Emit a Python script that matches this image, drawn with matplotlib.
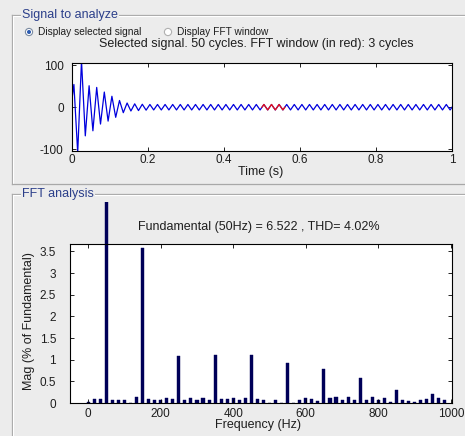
import numpy as np
import matplotlib
matplotlib.use('Agg')
import matplotlib.pyplot as plt
from matplotlib.patches import Rectangle, Circle

plt.rcParams['font.family'] = ['Liberation Sans', 'DejaVu Sans']
plt.rcParams['axes.unicode_minus'] = False

W, H = 465, 436
bg_col = '#ececec'
txt_col = '#1e1e1e'

# --- signal: extrema (half period = 0.01 s) ---
sig_start = 20
trans_peaks = [54, -108, 110, -68, 51, -56, 47, -40, 36, -33, 26, -24,
               16, -13, 10, -9, 8, -8, 7, -7]
steady_amp = 6.5
n_half = 100
fft_win = (0.50, 0.56)

# --- FFT bars, resolution 50/3 Hz (3-cycle window) ---
fft_step = 50 / 3
fft_mag = [0.02, 0.09, 0.09, 100, 0.06, 0.06, 0.06, 0.0, 0.15, 3.58,
           0.09, 0.06, 0.06, 0.12, 0.10, 1.08, 0.06, 0.12, 0.06, 0.12,
           0.08, 1.11, 0.09, 0.09, 0.12, 0.06, 0.12, 1.10, 0.09, 0.06,
           0.0, 0.06, 0.0, 0.93, 0.0, 0.06, 0.12, 0.09, 0.04, 0.78,
           0.12, 0.15, 0.06, 0.15, 0.08, 0.58, 0.06, 0.15, 0.08, 0.12,
           0.03, 0.31, 0.06, 0.05, 0.03, 0.06, 0.09, 0.21, 0.12, 0.06]

sig_title = 'Selected signal. 50 cycles. FFT window (in red): 3 cycles'
fft_title = 'Fundamental (50Hz) = 6.522 , THD= 4.02%'

# build waveform from extrema
peaks = list(trans_peaks)
for k in range(len(trans_peaks), n_half):
    peaks.append(steady_amp if k % 2 == 0 else -steady_amp)
t = np.concatenate([[0.0], 0.005 + 0.01 * np.arange(n_half), [1.0]])
y = np.concatenate([[sig_start], peaks, [0.0]])

fig = plt.figure(figsize=(W / 100, H / 100), dpi=100)
fig.patch.set_facecolor(bg_col)

# background layer in pixel coords
bg = fig.add_axes([0, 0, 1, 1], zorder=-1)
bg.set_xlim(0, W)
bg.set_ylim(H, 0)
bg.axis('off')

def frame(x0, y0, y1, label):
    kw = dict(color='#a8a8a8', lw=0.9)
    bg.plot([x0, W + 5], [y0, y0], **kw)
    bg.plot([x0, x0], [y0, y1], **kw)
    bg.plot([x0 + 1, W + 5], [y0 + 1, y0 + 1], color='white', lw=0.8)
    bg.plot([x0 + 1, x0 + 1], [y0 + 1, y1], color='white', lw=0.8)
    bg.text(x0 + 10, y0, label, fontsize=9, color='#2b3f8a', va='center',
            ha='left', bbox=dict(facecolor=bg_col, edgecolor='none', pad=1))

frame(12, 15, 184, 'Signal to analyze')
bg.plot([12, W + 5], [184, 184], color='#a8a8a8', lw=0.9)
frame(12, 194, H + 5, 'FFT analysis')

# radio buttons
bg.add_patch(Circle((29, 32), 3.6, facecolor='white', edgecolor='#7a8aa0', lw=0.8))
bg.add_patch(Circle((29, 32), 2.0, facecolor='#2a5ab0', edgecolor='none'))
bg.add_patch(Circle((168, 32), 3.6, facecolor='white', edgecolor='#b0b0b0', lw=0.8))
bg.text(38, 32, 'Display selected signal', fontsize=7.3, va='center', color=txt_col)
bg.text(177, 32, 'Display FFT window', fontsize=7.3, va='center', color=txt_col)

# titles / axis labels
bg.text(256, 44, sig_title, fontsize=9, ha='center', va='center', color=txt_col)
bg.text(261, 172, 'Time (s)', fontsize=9, ha='center', va='center', color=txt_col)
bg.text(259, 227, fft_title, fontsize=9, ha='center', va='center', color=txt_col)
bg.text(258, 425, 'Frequency (Hz)', fontsize=9, ha='center', va='center', color=txt_col)
bg.text(29, 321, 'Mag (% of Fundamental)', fontsize=9, ha='center',
        va='center', rotation=90, color=txt_col)

def style(ax, xpad, ypad):
    ax.tick_params(direction='in', top=True, right=True, labelsize=8.5,
                   length=3, width=0.6, labelcolor=txt_col)
    ax.tick_params(axis='x', pad=xpad)
    ax.tick_params(axis='y', pad=ypad)
    for s in ax.spines.values():
        s.set_linewidth(0.8)

# --- time axes ---
ax1 = fig.add_axes([72 / W, 1 - 151 / H, 380 / W, 88 / H])
ax1.plot(t, y, color='#0000dd', lw=0.9)
m = (t >= fft_win[0]) & (t <= fft_win[1])
idx = np.where(m)[0]
seg = np.r_[idx[0] - 1, idx, idx[-1] + 1]
tt = np.clip(t[seg], fft_win[0], fft_win[1])
yy = np.interp(tt, t, y)
ax1.plot(tt, yy, color='#ee1111', lw=0.9)
ax1.set_xlim(0, 1)
ax1.set_ylim(-104, 105)
ax1.set_xticks(np.arange(0, 1.01, 0.2))
ax1.set_xticklabels(['0', '0.2', '0.4', '0.6', '0.8', '1'])
ax1.set_yticks([-100, 0, 100])
style(ax1, 2.5, 6)

# --- FFT axes ---
ax2 = fig.add_axes([70 / W, 1 - 403 / H, 382 / W, 159 / H])
freq = np.arange(len(fft_mag)) * fft_step
bars = ax2.bar(freq, fft_mag, width=8.5, color='#000058', edgecolor='#000058', lw=0.3)
clip = Rectangle((12, 202), W, H, transform=bg.transData)
bars[3].set_clip_path(clip)
ax2.set_xlim(-50, 1003)
ax2.set_ylim(0, 3.67)
ax2.set_xticks(np.arange(0, 1001, 200))
ax2.set_yticks(np.arange(0, 3.6, 0.5))
ax2.set_yticklabels(['0', '0.5', '1', '1.5', '2', '2.5', '3', '3.5'])
style(ax2, 3.5, 10)

fig.savefig('out.png', dpi=100, facecolor=fig.get_facecolor())
